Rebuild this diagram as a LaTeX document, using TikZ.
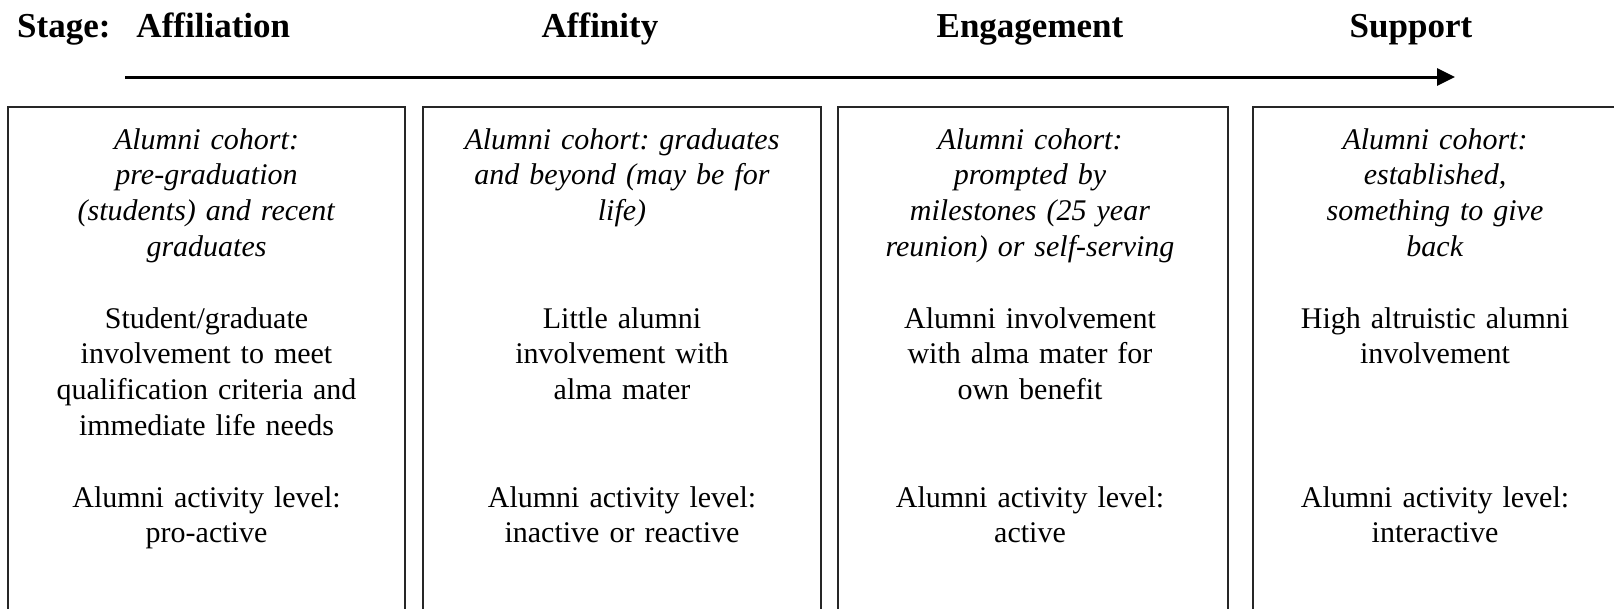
\documentclass[tikz,border=0pt]{standalone}
\usepackage{fontspec}
\setmainfont{Liberation Serif}
\usetikzlibrary{arrows.meta}
\frenchspacing
\begin{document}
\begin{tikzpicture}[x=1pt,y=-1pt,
  stagebox/.style={draw=black!85,line width=2pt},
  head/.style={font=\fontsize{35}{40}\selectfont\bfseries,anchor=base,inner sep=0pt},
  coltext/.style={font=\fontsize{30}{35.8}\selectfont,align=center,text width=390pt,anchor=base,inner sep=0pt},
  flow/.style={line width=3pt,-{Triangle[length=18pt,width=17pt]}}]
\useasboundingbox (0,0) rectangle (1614,608);
% boxes
\draw[stagebox] (8,640) -- (8,107) -- (405,107) -- (405,640);
\draw[stagebox] (423,640) -- (423,107) -- (821,107) -- (821,640);
\draw[stagebox] (838,640) -- (838,107) -- (1228,107) -- (1228,640);
\draw[stagebox] (1253,640) -- (1253,107) -- (1700,107);
% headers
\node[head,anchor=base west] (h1) at (17,37) {Stage:\hspace{26pt}Affiliation};
\node[head] (h2) at (600,37) {Affinity};
\node[head] (h3) at (1030,37) {Engagement};
\node[head] (h4) at (1411,37) {Support};
% arrow
\coordinate (as) at (125,77);
\coordinate (ae) at (1455,77);
\draw[flow] (as) -- (ae);
% column texts
\node[coltext] (c1) at (206.5,149) {\textit{Alumni cohort:}\\
\textit{pre-graduation}\\
\textit{(students) and recent}\\
\textit{graduates}\\[35.8pt]
Student/graduate\\
involvement to meet\\
qualification criteria and\\
immediate life needs\\[35.8pt]
Alumni activity level:\\
pro-active};
\node[coltext] (c2) at (622,149) {\textit{Alumni cohort: graduates}\\
\textit{and beyond (may be for}\\
\textit{life)}\\[71.6pt]
Little alumni\\
involvement with\\
alma mater\\[71.6pt]
Alumni activity level:\\
inactive or reactive};
\node[coltext] (c3) at (1030,149) {\textit{Alumni cohort:}\\
\textit{prompted by}\\
\textit{milestones (25 year}\\
\textit{reunion) or self-serving}\\[35.8pt]
Alumni involvement\\
with alma mater for\\
own benefit\\[71.6pt]
Alumni activity level:\\
active};
\node[coltext] (c4) at (1435,149) {\textit{Alumni cohort:}\\
\textit{established,}\\
\textit{something to give}\\
\textit{back}\\[35.8pt]
High altruistic alumni\\
involvement\\[107.4pt]
Alumni activity level:\\
interactive};
\end{tikzpicture}
\end{document}
